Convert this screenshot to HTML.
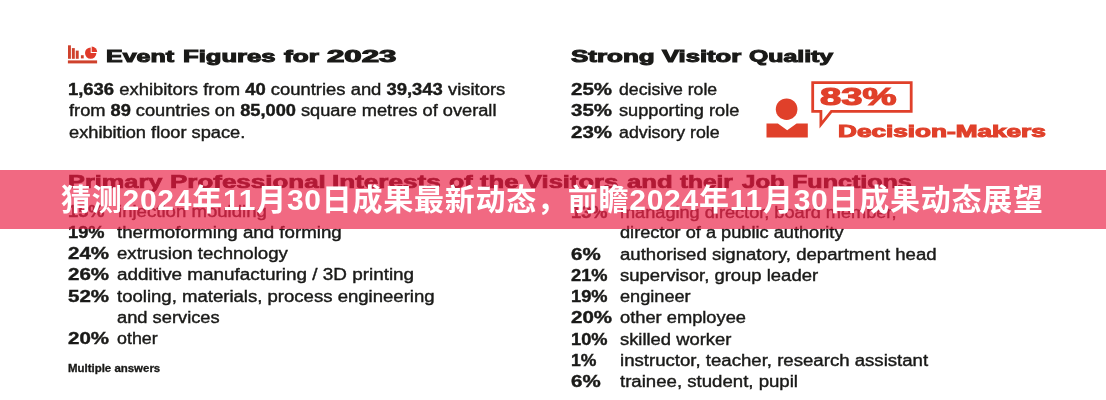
<!DOCTYPE html>
<html><head><meta charset="utf-8"><title>Event Figures for 2023</title>
<style>
html,body{margin:0;padding:0;background:#fff;}
body{width:1106px;height:400px;overflow:hidden;position:relative;font-family:"Liberation Sans",sans-serif;color:#1a1a18;}
#bg{position:absolute;left:0;top:0;width:1106px;height:400px;filter:blur(0.5px);}
.t{position:absolute;white-space:nowrap;line-height:40px;transform-origin:0 0;}
.t b{font-weight:bold;-webkit-text-stroke:0.4px;}
#band{position:absolute;left:0;top:170px;width:1106px;height:59px;background:rgba(234,27,66,0.66);}
#ttl{position:absolute;left:0;top:0;width:1106px;height:400px;filter:blur(0.4px);}
svg{position:absolute;left:0;top:0;}
</style></head><body>
<div id="bg">
<div class="t" style="left:106.24px;top:36px;font-size:16.5px;font-weight:bold;-webkit-text-stroke:1.0px;transform:scaleX(1.5128);">Event</div>
<div class="t" style="left:182.62px;top:36px;font-size:16.5px;font-weight:bold;-webkit-text-stroke:1.0px;transform:scaleX(1.5542);">Figures</div>
<div class="t" style="left:283.80px;top:36px;font-size:16.5px;font-weight:bold;-webkit-text-stroke:1.0px;transform:scaleX(1.5822);">for</div>
<div class="t" style="left:326.50px;top:36px;font-size:16.5px;font-weight:bold;-webkit-text-stroke:1.0px;transform:scaleX(1.8904);">2023</div>
<div class="t" style="left:571.00px;top:36px;font-size:16.5px;font-weight:bold;-webkit-text-stroke:1.0px;transform:scaleX(1.5752);">Strong</div>
<div class="t" style="left:662.38px;top:36px;font-size:16.5px;font-weight:bold;-webkit-text-stroke:1.0px;transform:scaleX(1.5517);">Visitor</div>
<div class="t" style="left:749.32px;top:36px;font-size:16.5px;font-weight:bold;-webkit-text-stroke:1.0px;transform:scaleX(1.5040);">Quality</div>
<div class="t" style="left:68.21px;top:162px;font-size:17.5px;font-weight:bold;-webkit-text-stroke:0.7px;transform:scaleX(1.4471);color:#46141e;">Primary</div>
<div class="t" style="left:170.39px;top:162px;font-size:17.5px;font-weight:bold;-webkit-text-stroke:0.7px;transform:scaleX(1.4831);color:#46141e;">Professional</div>
<div class="t" style="left:331.68px;top:162px;font-size:17.5px;font-weight:bold;-webkit-text-stroke:0.7px;transform:scaleX(1.4899);color:#46141e;">Interests</div>
<div class="t" style="left:448.64px;top:162px;font-size:17.5px;font-weight:bold;-webkit-text-stroke:0.7px;transform:scaleX(1.4328);color:#46141e;">of</div>
<div class="t" style="left:480.37px;top:162px;font-size:17.5px;font-weight:bold;-webkit-text-stroke:0.7px;transform:scaleX(1.4667);color:#46141e;">the</div>
<div class="t" style="left:525.36px;top:162px;font-size:17.5px;font-weight:bold;-webkit-text-stroke:0.7px;transform:scaleX(1.4588);color:#46141e;">Visitors</div>
<div class="t" style="left:626.63px;top:162px;font-size:17.5px;font-weight:bold;-webkit-text-stroke:0.7px;transform:scaleX(1.4667);color:#46141e;">and</div>
<div class="t" style="left:679.75px;top:162px;font-size:17.5px;font-weight:bold;-webkit-text-stroke:0.7px;transform:scaleX(1.3935);color:#46141e;">their</div>
<div class="t" style="left:742.40px;top:162px;font-size:17.5px;font-weight:bold;-webkit-text-stroke:0.7px;transform:scaleX(1.3756);color:#46141e;">Job</div>
<div class="t" style="left:792.13px;top:162px;font-size:17.5px;font-weight:bold;-webkit-text-stroke:0.7px;transform:scaleX(1.4327);color:#46141e;">Functions</div>
<div class="t" style="left:838.19px;top:111px;font-size:16.2px;font-weight:bold;-webkit-text-stroke:1.0px;transform:scaleX(1.6148);color:#e0402a;">Decision-Makers</div>
<div class="t" style="left:819.89px;top:77px;font-size:23.5px;font-weight:bold;-webkit-text-stroke:1.1px;transform:scaleX(1.6257);color:#e0402a;">83%</div>
<div class="t" style="left:67.74px;top:70px;font-size:16px;-webkit-text-stroke:0.4px;transform:scaleX(1.1514);"><b>1,636</b> exhibitors from <b>40</b> countries and <b>39,343</b> visitors</div>
<div class="t" style="left:69.20px;top:91px;font-size:16px;-webkit-text-stroke:0.4px;transform:scaleX(1.1389);">from <b>89</b> countries on <b>85,000</b> square metres of overall</div>
<div class="t" style="left:68.63px;top:113px;font-size:16px;-webkit-text-stroke:0.4px;transform:scaleX(1.1392);">exhibition floor space.</div>
<div class="t" style="left:68.10px;top:192px;font-size:16px;font-weight:bold;-webkit-text-stroke:0.4px;transform:scaleX(1.1400);color:#5a3038;">15%</div>
<div class="t" style="left:118.10px;top:192px;font-size:16px;-webkit-text-stroke:0.4px;transform:scaleX(1.1623);color:#5a3038;">injection moulding</div>
<div class="t" style="left:68.10px;top:213px;font-size:16px;font-weight:bold;-webkit-text-stroke:0.4px;transform:scaleX(1.1400);">19%</div>
<div class="t" style="left:116.60px;top:213px;font-size:16px;-webkit-text-stroke:0.4px;transform:scaleX(1.1702);">thermoforming and forming</div>
<div class="t" style="left:68.10px;top:234px;font-size:16px;font-weight:bold;-webkit-text-stroke:0.4px;transform:scaleX(1.2800);">24%</div>
<div class="t" style="left:116.60px;top:234px;font-size:16px;-webkit-text-stroke:0.4px;transform:scaleX(1.1646);">extrusion technology</div>
<div class="t" style="left:68.10px;top:255px;font-size:16px;font-weight:bold;-webkit-text-stroke:0.4px;transform:scaleX(1.2800);">26%</div>
<div class="t" style="left:116.60px;top:255px;font-size:16px;-webkit-text-stroke:0.4px;transform:scaleX(1.1805);">additive manufacturing / 3D printing</div>
<div class="t" style="left:68.10px;top:277px;font-size:16px;font-weight:bold;-webkit-text-stroke:0.4px;transform:scaleX(1.2800);">52%</div>
<div class="t" style="left:116.60px;top:277px;font-size:16px;-webkit-text-stroke:0.4px;transform:scaleX(1.1594);">tooling, materials, process engineering</div>
<div class="t" style="left:116.60px;top:298px;font-size:16px;-webkit-text-stroke:0.4px;transform:scaleX(1.1430);">and services</div>
<div class="t" style="left:68.10px;top:319px;font-size:16px;font-weight:bold;-webkit-text-stroke:0.4px;transform:scaleX(1.2800);">20%</div>
<div class="t" style="left:116.60px;top:319px;font-size:16px;-webkit-text-stroke:0.4px;transform:scaleX(1.1151);">other</div>
<div class="t" style="left:68.05px;top:349px;font-size:10.4px;font-weight:bold;-webkit-text-stroke:0.3px;transform:scaleX(1.1012);">Multiple answers</div>
<div class="t" style="left:570.50px;top:70px;font-size:16px;font-weight:bold;-webkit-text-stroke:0.4px;transform:scaleX(1.2800);">25%</div>
<div class="t" style="left:619.30px;top:70px;font-size:16px;-webkit-text-stroke:0.4px;transform:scaleX(1.1040);">decisive role</div>
<div class="t" style="left:570.50px;top:91px;font-size:16px;font-weight:bold;-webkit-text-stroke:0.4px;transform:scaleX(1.2800);">35%</div>
<div class="t" style="left:619.30px;top:91px;font-size:16px;-webkit-text-stroke:0.4px;transform:scaleX(1.1373);">supporting role</div>
<div class="t" style="left:570.50px;top:113px;font-size:16px;font-weight:bold;-webkit-text-stroke:0.4px;transform:scaleX(1.2800);">23%</div>
<div class="t" style="left:619.30px;top:113px;font-size:16px;-webkit-text-stroke:0.4px;transform:scaleX(1.1102);">advisory role</div>
<div class="t" style="left:570.50px;top:193px;font-size:16px;font-weight:bold;-webkit-text-stroke:0.4px;transform:scaleX(1.1400);color:#5a3038;">13%</div>
<div class="t" style="left:619.90px;top:193px;font-size:16px;-webkit-text-stroke:0.4px;transform:scaleX(1.1344);color:#5a3038;">managing director, board member,</div>
<div class="t" style="left:619.90px;top:213px;font-size:16px;-webkit-text-stroke:0.4px;transform:scaleX(1.1370);">director of a public authority</div>
<div class="t" style="left:570.50px;top:235px;font-size:16px;font-weight:bold;-webkit-text-stroke:0.4px;transform:scaleX(1.2800);">6%</div>
<div class="t" style="left:619.90px;top:235px;font-size:16px;-webkit-text-stroke:0.4px;transform:scaleX(1.1607);">authorised signatory, department head</div>
<div class="t" style="left:570.50px;top:256px;font-size:16px;font-weight:bold;-webkit-text-stroke:0.4px;transform:scaleX(1.1400);">21%</div>
<div class="t" style="left:619.90px;top:256px;font-size:16px;-webkit-text-stroke:0.4px;transform:scaleX(1.1539);">supervisor, group leader</div>
<div class="t" style="left:570.50px;top:277px;font-size:16px;font-weight:bold;-webkit-text-stroke:0.4px;transform:scaleX(1.1400);">19%</div>
<div class="t" style="left:619.90px;top:277px;font-size:16px;-webkit-text-stroke:0.4px;transform:scaleX(1.1341);">engineer</div>
<div class="t" style="left:570.50px;top:298px;font-size:16px;font-weight:bold;-webkit-text-stroke:0.4px;transform:scaleX(1.2800);">20%</div>
<div class="t" style="left:619.90px;top:298px;font-size:16px;-webkit-text-stroke:0.4px;transform:scaleX(1.1426);">other employee</div>
<div class="t" style="left:570.50px;top:320px;font-size:16px;font-weight:bold;-webkit-text-stroke:0.4px;transform:scaleX(1.1400);">10%</div>
<div class="t" style="left:619.90px;top:320px;font-size:16px;-webkit-text-stroke:0.4px;transform:scaleX(1.1483);">skilled worker</div>
<div class="t" style="left:570.50px;top:341px;font-size:16px;font-weight:bold;-webkit-text-stroke:0.4px;transform:scaleX(1.1000);">1%</div>
<div class="t" style="left:619.90px;top:341px;font-size:16px;-webkit-text-stroke:0.4px;transform:scaleX(1.1626);">instructor, teacher, research assistant</div>
<div class="t" style="left:570.50px;top:362px;font-size:16px;font-weight:bold;-webkit-text-stroke:0.4px;transform:scaleX(1.2800);">6%</div>
<div class="t" style="left:619.90px;top:362px;font-size:16px;-webkit-text-stroke:0.4px;transform:scaleX(1.1632);">trainee, student, pupil</div>
<svg id="ico" width="1106" height="400" viewBox="0 0 1106 400">
<g fill="#cf412c">
<rect x="67.9" y="60.4" width="29.2" height="3"/>
<rect x="68" y="45.3" width="2.9" height="13.5"/>
<rect x="71.9" y="48.1" width="2.9" height="10.7"/>
<rect x="75.8" y="50.6" width="2.9" height="8.2"/>
<rect x="80.9" y="55.2" width="2.8" height="3.2"/>
</g>
<g fill="#e03a2a">
<path d="M90.7 47.4 A5.7 5.7 0 1 0 96.4 53.1 L90.7 53.1 Z"/>
<path d="M91.7 46.6 A5.5 5.5 0 0 1 97.2 52.1 L91.7 52.1 Z"/>
</g>
<g fill="#e0402a">
<circle cx="786.6" cy="109.2" r="10.8"/>
<path d="M766.5 123.5 L777.9 123.5 L787.2 130.3 L796.6 123.5 L807.8 123.5 L807.8 137.5 L766.5 137.5 Z"/>
</g>
<path d="M812.7 82.6 H911.2 V111.4 H831.4 L820.9 124.6 L820.9 111.4 H812.7 Z" fill="none" stroke="#e0402a" stroke-width="2.8" stroke-linejoin="miter"/>
</svg>
</div>
<div id="band"></div>
<svg id="ttl" width="1106" height="400" viewBox="0 0 1106 400"><text x="61" y="210.4" font-size="30" font-weight="bold" fill="#fff" textLength="982" lengthAdjust="spacing" style="font-family:'Liberation Sans','Noto Sans CJK SC',sans-serif;">猜测2024年11月30日成果最新动态，前瞻2024年11月30日成果动态展望</text></svg>
</body></html>
